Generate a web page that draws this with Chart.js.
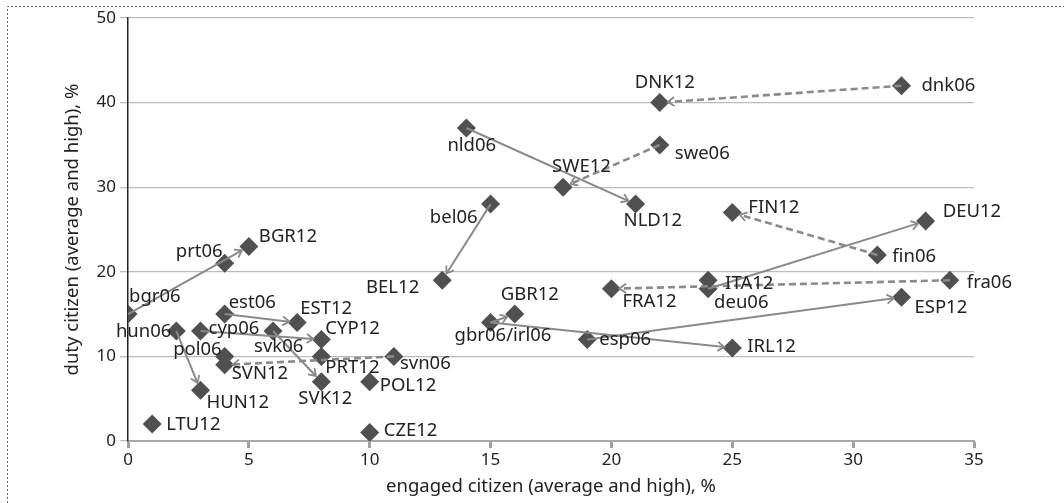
<!DOCTYPE html>
<html><head><meta charset="utf-8">
<script src="https://cdn.jsdelivr.net/npm/chart.js@4/dist/chart.umd.min.js"></script>
<style>html,body{margin:0;padding:0;background:#fff}#wrap{width:1064px;height:503px;position:relative}</style>
</head><body><div id="wrap"><canvas id="c"></canvas></div>
<script>
// ---- data ----
const pointNames = ["dnk06","DNK12","nld06","swe06","SWE12","NLD12","bel06","BEL12","FIN12","DEU12",
  "fin06","fra06","ESP12","ITA12","deu06","FRA12","GBR12","gbr06/irl06","esp06","IRL12",
  "svn06","POL12","CZE12","PRT12","CYP12","EST12","SVK12","svk06","SVN12","pol06",
  "HUN12","cyp06","hun06","est06","bgr06","prt06","BGR12","LTU12"];
const engagedValues = [32,22,14,22,18,21,15,13,25,33, 31,34,32,24,24,20,16,15,19,25, 11,10,10,8,8,7,8,6,4,4, 3,3,2,4,0,4,5,1];
const dutyValues    = [42,40,37,35,30,28,28,19,27,26, 22,19,17,19,18,18,15,14,12,11, 10,7,1,10,12,14,7,13,9,10, 6,13,13,15,15,21,23,2];
const arrowFrom   = ["dnk06","swe06","nld06","bel06","fin06","deu06","fra06","gbr06/irl06","gbr06/irl06","esp06","svn06","est06","cyp06","svk06","hun06","bgr06"];
const arrowTo     = ["DNK12","SWE12","NLD12","BEL12","FIN12","DEU12","FRA12","GBR12","IRL12","ESP12","SVN12","EST12","CYP12","SVK12","HUN12","BGR12"];
const arrowDashed = [true,true,false,false,true,false,true,false,false,false,true,false,false,false,false,false];
const xTickValues = [0,5,10,15,20,25,30,35];
const yTickValues = [0,10,20,30,40,50];
const xTitle = "engaged citizen (average and high), %";
const yTitle = "duty citizen (average and high), %";

// ---- label layout (pixel offsets from marker centre) ----
const labelLayout = {
  "dnk06":[20,0,"left"], "DNK12":[-25,-20,"left"], "nld06":[-19,18,"left"], "swe06":[15,9,"left"],
  "SWE12":[-11,-20,"left"], "NLD12":[-12,17,"left"], "bel06":[-13,14,"right"], "BEL12":[-23,7,"right"],
  "FIN12":[16,-5,"left"], "DEU12":[17,-9,"left"], "fin06":[15,2,"left"], "fra06":[17,2,"left"],
  "ESP12":[13,11,"left"], "ITA12":[17,3,"left"], "deu06":[6,14,"left"], "FRA12":[11,13,"left"],
  "GBR12":[-14,-19,"left"], "gbr06/irl06":[-36,13,"left"], "esp06":[12,0,"left"], "IRL12":[15,-1,"left"],
  "svn06":[6,7,"left"], "POL12":[10,4,"left"], "CZE12":[14,-2,"left"], "PRT12":[4,11,"left"],
  "CYP12":[4,-11,"left"], "EST12":[3,-14,"left"], "SVK12":[-23,17,"left"], "svk06":[-19,16,"left"],
  "SVN12":[7,9,"left"], "pol06":[-3,-7,"right"], "HUN12":[6,12,"left"], "cyp06":[8,-2,"left"],
  "hun06":[-5,1,"right"], "est06":[4,-11,"left"], "bgr06":[1,-17,"left"], "prt06":[-2,-12,"right"],
  "BGR12":[10,-10,"left"], "LTU12":[14,1,"left"]
};

const FONT = "'Noto Sans', 'DejaVu Sans', sans-serif";
const TEXT = "#222";

const points = pointNames.map((n,i)=>({x:engagedValues[i], y:dutyValues[i], name:n}));

const borderPlugin = {
  id:'border',
  beforeDraw(chart){
    const ctx = chart.ctx;
    ctx.save();
    ctx.strokeStyle = '#666'; ctx.lineWidth = 1; ctx.setLineDash([2,2]);
    ctx.beginPath();
    ctx.moveTo(7.5, 503); ctx.lineTo(7.5, 6.5); ctx.lineTo(1064, 6.5);
    ctx.stroke();
    ctx.restore();
  }
};

const overlayPlugin = {
  id:'overlay',
  afterDatasetsDraw(chart){
    const ctx = chart.ctx, xs = chart.scales.x, ys = chart.scales.y;
    const pos = {};
    points.forEach(p=>{ pos[p.name] = [xs.getPixelForValue(p.x), ys.getPixelForValue(p.y)]; });
    ctx.save();
    ctx.strokeStyle = '#8a8a8a';
    ctx.lineCap = 'butt';
    arrowFrom.forEach((f,i)=>{
      const a = pos[f], b = pos[arrowTo[i]];
      const dx = b[0]-a[0], dy = b[1]-a[1], len = Math.hypot(dx,dy);
      const ux = dx/len, uy = dy/len;
      const tx = b[0]-ux*8, ty = b[1]-uy*8;
      ctx.lineWidth = arrowDashed[i] ? 2.6 : 2;
      ctx.setLineDash(arrowDashed[i] ? [7,4] : []);
      ctx.beginPath(); ctx.moveTo(a[0],a[1]); ctx.lineTo(tx,ty); ctx.stroke();
      ctx.setLineDash([]);
      ctx.lineWidth = 1.8;
      const ang = Math.atan2(uy,ux), hl = 8, ha = 0.6;
      ctx.beginPath();
      ctx.moveTo(tx - hl*Math.cos(ang-ha), ty - hl*Math.sin(ang-ha));
      ctx.lineTo(tx, ty);
      ctx.lineTo(tx - hl*Math.cos(ang+ha), ty - hl*Math.sin(ang+ha));
      ctx.stroke();
    });
    ctx.fillStyle = TEXT;
    ctx.font = "18.5px " + FONT;
    ctx.textBaseline = 'middle';
    points.forEach(p=>{
      const L = labelLayout[p.name], c = pos[p.name];
      ctx.textAlign = L[2];
      ctx.fillText(p.name, c[0]+L[0], c[1]+L[1]);
    });
    ctx.restore();
  }
};

new Chart(document.getElementById('c'), {
  type:'scatter',
  data:{ datasets:[{ data: points, pointStyle:'rectRot', radius:9.5, hoverRadius:9.5,
    backgroundColor:'#505050', borderColor:'#505050', borderWidth:0 }]},
  options:{
    responsive:true, maintainAspectRatio:false, animation:false,
    plugins:{ legend:{display:false}, tooltip:{enabled:false} },
    layout:{ padding:{ left:62, right:90, top:18, bottom:0 } },
    scales:{
      x:{ type:'linear', min:0, max:35,
        afterBuildTicks(s){ s.ticks = xTickValues.map(v=>({value:v})); },
        afterFit(s){ s.height = 62; },
        grid:{ drawOnChartArea:false, drawTicks:true, tickLength:7, tickWidth:3, tickColor:'#a0a0a0' },
        border:{ display:true, color:'#a8a8a8', width:2 },
        ticks:{ color:TEXT, font:{family:FONT, size:17}, padding:2, maxRotation:0 },
        title:{ display:true, text:xTitle, color:TEXT, font:{family:FONT, size:18.5}, padding:{top:4,bottom:5} }
      },
      y:{ type:'linear', min:0, max:50,
        afterBuildTicks(s){ s.ticks = yTickValues.map(v=>({value:v})); },
        afterFit(s){ s.width = 66; },
        grid:{ color:'#bcbcbc', lineWidth:1.3, tickLength:8, drawTicks:true },
        border:{ display:true, color:'#222', width:1.5 },
        ticks:{ color:TEXT, font:{family:FONT, size:17}, padding:4 },
        title:{ display:true, text:yTitle, color:TEXT, font:{family:FONT, size:18.5}, padding:{top:0,bottom:0} }
      }
    }
  },
  plugins:[borderPlugin, overlayPlugin]
});
</script></body></html>
